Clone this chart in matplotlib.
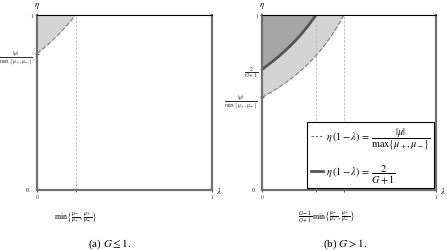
import numpy as np
import matplotlib
matplotlib.use("Agg")
import matplotlib.pyplot as plt
from matplotlib.lines import Line2D

plt.rcParams['font.family'] = ['Liberation Serif', 'DejaVu Serif']
plt.rcParams['mathtext.fontset'] = 'stix'

# Values
thresh_a = 0.78          # |mu|/max{mu+,mu-} in panel (a)
thresh_b = 0.53          # |mu|/max{mu+,mu-} in panel (b)
solid_b = 0.69           # 2/(G+1) in panel (b)
captions = [r"(a) $G \leq 1$.", r"(b) $G > 1$."]
ylab_thresh = r"$\frac{|\mu|}{\max\,\{\mu_+,\mu_-\}}$"
ylab_solid = r"$\frac{2}{G+1}$"
xlab_a = r"$\min\left\{\frac{\mu_-}{\mu_+},\,\frac{\mu_+}{\mu_-}\right\}$"
xlab_b = r"$\frac{G-1}{G+1}\,\min\left\{\frac{\mu_-}{\mu_+},\,\frac{\mu_+}{\mu_-}\right\}$"
leg_dash = r"$\eta\,(1-\lambda)\,=\,\dfrac{|\mu|}{\max\{\mu_+,\mu_-\}}$"
leg_solid = r"$\eta\,(1-\lambda)\,=\,\dfrac{2}{G+1}$"

W, H = 447, 251
fig = plt.figure(figsize=(W / 100, H / 100), dpi=100)

LIGHT = '#d4d4d4'
DARK = '#a6a6a6'
SPINE = '#707070'
VLINE = '#bdbdbd'
SMALL = 5.8


def style_axes(ax):
    ax.set_xlim(0, 1)
    ax.set_ylim(0, 1)
    for s in ['left', 'bottom', 'right']:
        ax.spines[s].set_color(SPINE)
        ax.spines[s].set_linewidth(1.6)
    ax.spines['top'].set_color('black')
    ax.spines['top'].set_linewidth(0.8)
    ax.tick_params(direction='inout', length=3, width=0.6, colors='#333333',
                   labelsize=4.0, pad=1.5)
    ax.text(0.0, 1.03, r"$\eta$", transform=ax.transAxes, fontsize=6.5,
            ha='center', va='bottom')
    ax.text(1.025, 0.0, r"$\lambda$", transform=ax.transAxes, fontsize=6.5,
            ha='left', va='center')
    ax.text(-0.045, 0.0, "0", transform=ax.transAxes, fontsize=4.0,
            ha='right', va='center')


def hyper(c, n=200):
    lam = np.linspace(0, 1 - c, n)
    return lam, c / (1 - lam)


# Panel (a)
axa = fig.add_axes([37 / W, 60 / H, 175 / W, 175 / H])
style_axes(axa)
lam, eta = hyper(thresh_a)
axa.fill_between(lam, eta, 1, color=LIGHT, lw=0)
axa.plot(lam, eta, color='#808080', ls=(0, (4, 2)), lw=0.8)
axa.axvline(1 - thresh_a, color=VLINE, ls=(0, (2.5, 1.5)), lw=0.7)
axa.set_yticks([thresh_a, 1])
axa.set_yticklabels([ylab_thresh, "1"])
axa.set_xticks([0, 1 - thresh_a, 1])
axa.set_xticklabels(["0", "", "1"])
axa.text(1 - thresh_a, -0.11, xlab_a, transform=axa.transAxes,
         fontsize=SMALL, ha='center', va='top')
axa.get_yticklabels()[0].set_fontsize(SMALL)

# Panel (b)
axb = fig.add_axes([262 / W, 60 / H, 174 / W, 175 / H])
style_axes(axb)
lam, eta = hyper(thresh_b)
axb.fill_between(lam, eta, 1, color=LIGHT, lw=0)
lam2, eta2 = hyper(solid_b)
axb.fill_between(lam2, eta2, 1, color=DARK, lw=0)
axb.plot(lam, eta, color='#808080', ls=(0, (4, 2)), lw=0.8)
axb.plot(lam2, eta2, color='#555555', lw=2.0)
axb.axvline(1 - solid_b, color=VLINE, ls=(0, (2.5, 1.5)), lw=0.7)
axb.axvline(1 - thresh_b, color=VLINE, ls=(0, (2.5, 1.5)), lw=0.7)
axb.set_yticks([thresh_b, solid_b, 1])
axb.set_yticklabels([ylab_thresh, ylab_solid, "1"])
for t in axb.get_yticklabels()[:2]:
    t.set_fontsize(SMALL)
axb.set_xticks([0, 1 - solid_b, 1 - thresh_b, 1])
axb.set_xticklabels(["0", "", "", "1"])
axb.text((1 - solid_b + 1 - thresh_b) / 2 - 0.02, -0.11, xlab_b,
         transform=axb.transAxes, fontsize=SMALL, ha='center', va='top')

handles = [Line2D([], [], color='#707070', ls=(0, (2.2, 1.6)), lw=0.8),
           Line2D([], [], color='#555555', lw=2.0)]
leg = axb.legend(handles, [leg_dash, leg_solid], loc='lower right',
                 fontsize=7.4, frameon=True, fancybox=False,
                 edgecolor='black', framealpha=1, borderaxespad=0.15,
                 handlelength=1.2, handletextpad=0.3, labelspacing=1.1,
                 borderpad=0.35)
leg.get_frame().set_linewidth(0.8)

fig.text(110 / W, 1 - 244 / H, captions[0], fontsize=8, ha='center', va='center')
fig.text(345 / W, 1 - 244 / H, captions[1], fontsize=8, ha='center', va='center')

fig.savefig("out.png", dpi=100)
